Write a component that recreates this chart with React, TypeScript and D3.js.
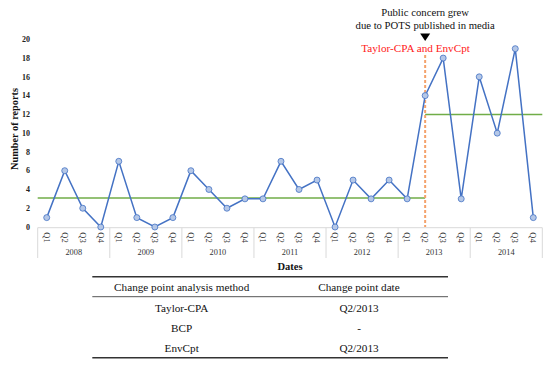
import React from 'react';
import * as d3 from 'd3';

const years = ['2008', '2009', '2010', '2011', '2012', '2013', '2014'];
const quarters = ['Q1', 'Q2', 'Q3', 'Q4'];
const reports = [1, 6, 2, 0, 7, 1, 0, 1, 6, 4, 2, 3, 3, 7, 4, 5, 0, 5, 3, 5, 3, 14, 18, 3, 16, 10, 19, 1];
const yTicks = [0, 2, 4, 6, 8, 10, 12, 14, 16, 18, 20];
const changeIndex = 21; // Q2/2013
const meanBefore = 3.1;
const meanAfter = 12;
const tableHeader = ['Change point analysis method', 'Change point date'];
const tableMethods = ['Taylor-CPA', 'BCP', 'EnvCpt'];
const tableDates = ['Q2/2013', '-', 'Q2/2013'];

const font = "'Liberation Serif', 'Times New Roman', Times, serif";

const App = () => {
  const keys = reports.map((_, i) => String(i));
  const x = d3.scaleBand().domain(keys).range([37.7, 542.3]);
  const y = d3.scaleLinear().domain([0, 20]).range([227, 39.3]);
  const cx = (i: number) => (x(String(i)) || 0) + x.bandwidth() / 2;

  const line = d3.line<number>().x((_, i) => cx(i)).y((d) => y(d));
  const changeX = cx(changeIndex);

  const colX = [181.7, 359];
  const rowY = [307.7, 327.7, 347.7];

  return (
    <svg width={550} height={367} style={{ position: 'absolute', left: 0, top: 0, fontFamily: font }}>
      <rect width={550} height={367} fill="#fff" />

      {/* y axis labels */}
      {yTicks.map((t) => (
        <text key={t} x={30} y={y(t)} dy="0.35em" textAnchor="end" fontSize={8} fontWeight="bold" fill="#222">{t}</text>
      ))}
      <text transform={`translate(14,129) rotate(-90)`} textAnchor="middle" dy="0.35em" fontSize={10.3} fontWeight="bold" fill="#111">Number of reports</text>

      {/* x axis */}
      <line x1={x.range()[0]} x2={x.range()[1]} y1={227.7} y2={227.7} stroke="#d9d9d9" />
      {years.map((yr, yi) => {
        const x0 = x(String(yi * 4)) || 0;
        const x1 = x0 + x.bandwidth() * 4;
        return (
          <g key={yr}>
            <line x1={x0} x2={x0} y1={227.7} y2={258} stroke="#d9d9d9" />
            {yi === years.length - 1 && <line x1={x1} x2={x1} y1={227.7} y2={258} stroke="#d9d9d9" />}
            <text x={(x0 + x1) / 2} y={252.5} dy="0.35em" textAnchor="middle" fontSize={8.3} fill="#333">{yr}</text>
          </g>
        );
      })}
      {reports.map((_, i) => (
        <text key={i} transform={`translate(${cx(i)},237.5) rotate(90)`} textAnchor="middle" dy="0.35em" fontSize={8.5} fill="#333">{quarters[i % 4]}</text>
      ))}
      <text x={(x.range()[0] + x.range()[1]) / 2} y={266.5} dy="0.35em" textAnchor="middle" fontSize={10.5} fontWeight="bold" fill="#111">Dates</text>

      {/* means */}
      <line x1={x.range()[0]} x2={changeX} y1={y(meanBefore)} y2={y(meanBefore)} stroke="#70ad47" strokeWidth={1.5} />
      <line x1={changeX} x2={x.range()[1]} y1={y(meanAfter)} y2={y(meanAfter)} stroke="#70ad47" strokeWidth={1.5} />

      {/* change point */}
      <line x1={changeX} x2={changeX} y1={55} y2={227} stroke="#f4a26b" strokeWidth={2} strokeDasharray="3,2" />

      {/* series */}
      <path d={line(reports) || ''} fill="none" stroke="#4472c4" strokeWidth={1.5} />
      {reports.map((v, i) => (
        <circle key={i} cx={cx(i)} cy={y(v)} r={3} fill="#b4c7e7" stroke="#4472c4" strokeWidth={0.8} />
      ))}

      {/* annotation */}
      <text x={changeX} y={12.5} dy="0.35em" textAnchor="middle" fontSize={10.7} fill="#111">Public concern grew</text>
      <text x={changeX} y={25.7} dy="0.35em" textAnchor="middle" fontSize={10.7} fill="#111">due to POTS published in media</text>
      <path d={`M${changeX - 5},33.5 L${changeX + 5},33.5 L${changeX},41 Z`} fill="#000" />
      <text x={changeX - 9.6} y={48.5} dy="0.35em" textAnchor="middle" fontSize={11.2} fill="#ff2020">Taylor-CPA and EnvCpt</text>

      {/* table */}
      <line x1={92.3} x2={448} y1={276.7} y2={276.7} stroke="#333" strokeWidth={1.5} />
      <line x1={92.3} x2={448} y1={296.7} y2={296.7} stroke="#555" strokeWidth={1} />
      <line x1={92.3} x2={448} y1={357.7} y2={357.7} stroke="#333" strokeWidth={1.5} />
      {tableHeader.map((h, i) => (
        <text key={h} x={colX[i]} y={286.7} dy="0.35em" textAnchor="middle" fontSize={11.2} fill="#111">{h}</text>
      ))}
      {tableMethods.map((m, i) => (
        <g key={m}>
          <text x={colX[0]} y={rowY[i]} dy="0.35em" textAnchor="middle" fontSize={11.2} fill="#111">{m}</text>
          <text x={colX[1]} y={rowY[i]} dy="0.35em" textAnchor="middle" fontSize={11.2} fill="#111">{tableDates[i]}</text>
        </g>
      ))}
    </svg>
  );
};

export default App;
